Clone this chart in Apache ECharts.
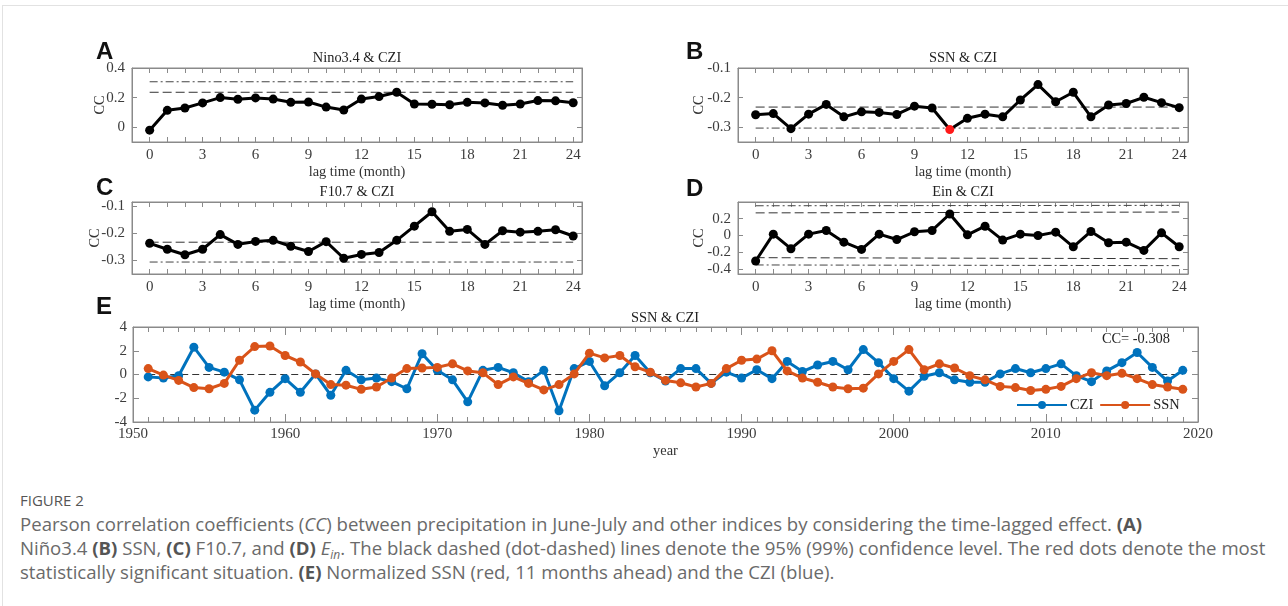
<!DOCTYPE html>
<html>
<head>
<meta charset="utf-8">
<script src="https://cdn.jsdelivr.net/npm/echarts@6/dist/echarts.min.js"></script>
<style>
  html, body { margin:0; padding:0; background:#fff; }
  #wrap { position:relative; width:1288px; height:606px; overflow:hidden; }
  #frame { position:absolute; left:2px; top:5px; width:1300px; height:620px; border-top:1px solid #e2e2e2; border-left:1px solid #e2e2e2; }
  #chart { position:absolute; left:0; top:0; width:1288px; height:470px; }
  #cap { position:absolute; left:20px; top:488px; font-family:'Open Sans','Noto Sans',sans-serif; color:#6a6a6a; font-size:18.6px; line-height:24px; white-space:nowrap; }
  #cap .fig { color:#555; font-size:15px; }
  #cap b { color:#555; }
  #cap sub { font-size:12px; vertical-align:-4px; line-height:0; }
</style>
</head>
<body>
<div id="wrap">
  <div id="frame"></div>
  <div id="chart"></div>
  <div id="cap">
    <div class="fig">FIGURE 2</div>
    <div>Pearson correlation coefficients (<i>CC</i>) between precipitation in June-July and other indices by considering the time-lagged effect. <b>(A)</b></div>
    <div>Niño3.4 <b>(B)</b> SSN, <b>(C)</b> F10.7, and <b>(D)</b> <i>E<sub>in</sub></i>. The black dashed (dot-dashed) lines denote the 95% (99%) confidence level. The red dots denote the most</div>
    <div>statistically significant situation. <b>(E)</b> Normalized SSN (red, 11 months ahead) and the CZI (blue).</div>
  </div>
</div>
<script>
// ---------- data ----------
const lags = [0,1,2,3,4,5,6,7,8,9,10,11,12,13,14,15,16,17,18,19,20,21,22,23,24];
const lagLabels = [0,3,6,9,12,15,18,21,24];

const ccNino = [-0.02,0.114,0.13,0.164,0.2,0.189,0.198,0.19,0.168,0.17,0.136,0.116,0.19,0.207,0.236,0.157,0.155,0.152,0.168,0.164,0.148,0.157,0.18,0.178,0.165];
const ccSSN  = [-0.258,-0.254,-0.305,-0.256,-0.223,-0.265,-0.248,-0.25,-0.257,-0.229,-0.235,-0.308,-0.27,-0.256,-0.265,-0.208,-0.156,-0.214,-0.182,-0.265,-0.225,-0.22,-0.199,-0.217,-0.234];
const ccF107 = [-0.237,-0.259,-0.279,-0.259,-0.205,-0.241,-0.23,-0.226,-0.248,-0.267,-0.231,-0.292,-0.278,-0.271,-0.226,-0.174,-0.121,-0.193,-0.186,-0.241,-0.191,-0.196,-0.193,-0.187,-0.21];
const ccEin  = [-0.305,0.016,-0.158,0.016,0.06,-0.08,-0.166,0.016,-0.048,0.044,0.06,0.257,0.008,0.111,-0.055,0.016,0,0.04,-0.135,0.048,-0.087,-0.08,-0.178,0.032,-0.135];

// confidence levels at lag 0 and lag 24 : [95% level], [99% level]
const confA = { c95:[[0.236,0.236]], c99:[[0.307,0.307]] };
const confB = { c95:[[-0.232,-0.232]], c99:[[-0.303,-0.303]] };
const confC = { c95:[[-0.233,-0.233]], c99:[[-0.306,-0.306]] };
const confD = { c95:[[0.27,0.28],[-0.265,-0.277]], c99:[[0.355,0.36],[-0.352,-0.36]] };
const redLagB = 11;

const years = [1951,1952,1953,1954,1955,1956,1957,1958,1959,1960,1961,1962,1963,1964,1965,1966,1967,1968,1969,1970,
1971,1972,1973,1974,1975,1976,1977,1978,1979,1980,1981,1982,1983,1984,1985,1986,1987,1988,1989,1990,
1991,1992,1993,1994,1995,1996,1997,1998,1999,2000,2001,2002,2003,2004,2005,2006,2007,2008,2009,2010,
2011,2012,2013,2014,2015,2016,2017,2018,2019];
const czi = [-0.2,-0.3,-0.1,2.3,0.6,0.2,-0.45,-3.0,-1.5,-0.35,-1.5,0.05,-1.75,0.35,-0.45,-0.3,-0.6,-1.2,1.75,0.35,
-0.45,-2.3,0.35,0.6,0.15,-0.6,0.35,-3.05,0.5,1.1,-0.95,0.15,1.6,0.15,-0.55,0.5,0.5,-0.75,0.2,-0.3,
0.4,-0.35,1.1,0.25,0.8,1.1,0.4,2.1,1.0,-0.35,-1.4,-0.15,0.15,-0.45,-0.65,-0.65,0.05,0.5,0.15,0.5,
0.9,-0.1,-0.6,0.3,1.0,1.85,0.6,-0.55,0.35];
const ssn = [0.5,-0.05,-0.5,-1.1,-1.2,-0.75,1.2,2.35,2.4,1.6,1.05,0.05,-0.85,-0.9,-1.25,-1.05,-0.3,0.5,0.55,0.6,
0.9,0.3,0.15,-0.85,-0.2,-0.75,-1.3,-0.85,0.05,1.8,1.4,1.6,0.65,0.2,-0.5,-0.7,-1.05,-0.75,0.5,1.2,
1.3,2.0,0.3,-0.3,-0.65,-1.05,-1.2,-1.15,0.05,1.1,2.1,0.4,0.9,0.55,-0.1,-0.45,-1.0,-1.1,-1.35,-1.25,
-1.0,-0.35,0.15,-0.1,0.1,-0.35,-0.85,-1.05,-1.25];
const eYLabels = [-4,-2,0,2,4];
const ccText = 'CC= -0.308';

// ---------- styling ----------
const SERIF = "'Liberation Serif','Times New Roman',serif";
const BOX = '#8a8a8a';
const LBL = '#3c3c3c';
const DASH = [9,4];
const DOTDASH = [8,3,2,3];
const TICKFS = 15, NAMEFS = 14.4;

const grids = [], xAxes = [], yAxes = [], series = [], graphics = [];

function panel(rect, yMin, yMax, yLab, vals, conf, title, letter, yNameGap, redIdx) {
  const gi = grids.length;
  grids.push({ left:rect[0], top:rect[1], width:rect[2], height:rect[3], show:true, borderColor:BOX, borderWidth:1, containLabel:false });
  const xb = xAxes.length;
  const common = { gridIndex:gi, type:'value', min:-1, max:24.5, splitLine:{show:false},
    axisLine:{show:true, onZero:false, lineStyle:{color:BOX}},
    axisTick:{show:true, inside:true, length:5, customValues:lags, lineStyle:{color:BOX}} };
  xAxes.push(Object.assign({}, common, { position:'bottom',
    axisLabel:{customValues:lagLabels, color:LBL, fontFamily:SERIF, fontSize:TICKFS, margin:6},
    name:'lag time (month)', nameLocation:'middle', nameGap:23, nameMoveOverlap:false,
    nameTextStyle:{fontFamily:SERIF, fontSize:NAMEFS, color:'#333'} }));
  xAxes.push(Object.assign({}, common, { position:'top', axisLabel:{show:false} }));
  const yb = yAxes.length;
  const yc = { gridIndex:gi, type:'value', min:yMin, max:yMax, splitLine:{show:false},
    axisLine:{show:true, onZero:false, lineStyle:{color:BOX}},
    axisTick:{show:true, inside:true, length:5, customValues:yLab, lineStyle:{color:BOX}} };
  yAxes.push(Object.assign({}, yc, { position:'left',
    axisLabel:{customValues:yLab, color:LBL, fontFamily:SERIF, fontSize:TICKFS, margin:7},
    name:'CC', nameLocation:'middle', nameGap:yNameGap, nameRotate:90, nameMoveOverlap:false,
    nameTextStyle:{fontFamily:SERIF, fontSize:NAMEFS, color:'#333'} }));
  yAxes.push(Object.assign({}, yc, { position:'right', axisLabel:{show:false} }));

  const lineCommon = { xAxisIndex:xb, yAxisIndex:yb, type:'line', symbol:'none', silent:true, animation:false };
  conf.c99.forEach(p => series.push(Object.assign({}, lineCommon, {
    data:[[lags[0], p[0]], [lags[lags.length-1], p[1]]], lineStyle:{color:'#444', width:1, type:DOTDASH} })));
  conf.c95.forEach(p => series.push(Object.assign({}, lineCommon, {
    data:[[lags[0], p[0]], [lags[lags.length-1], p[1]]], lineStyle:{color:'#333', width:1, type:DASH} })));

  series.push({ type:'line', xAxisIndex:xb, yAxisIndex:yb, animation:false, z:5,
    symbol:'circle', symbolSize:9, showAllSymbol:true,
    lineStyle:{color:'#000', width:3}, itemStyle:{color:'#000'},
    data: lags.map((l,i) => (i === redIdx)
      ? { value:[l, vals[i]], itemStyle:{color:'#ff1a1a'}, symbolSize:9 }
      : [l, vals[i]]) });

  graphics.push({ type:'text', x:rect[0] + rect[2]/2, y:rect[1] - 10, z:10,
    style:{ text:title, font:NAMEFS + 'px ' + SERIF, fill:'#222', textAlign:'center', textVerticalAlign:'middle' } });
  graphics.push({ type:'text', x:letter[1], y:letter[2], z:10,
    style:{ text:letter[0], font:'bold 24px "Liberation Sans", Arial, sans-serif', fill:'#111', textAlign:'left', textVerticalAlign:'top' } });
}

panel([132, 68, 450, 74], -0.1, 0.4, [0,0.2,0.4], ccNino, confA, 'Nino3.4 & CZI', ['A', 96, 40], 25, -1);
panel([738, 68, 450, 74], -0.35, -0.1, [-0.3,-0.2,-0.1], ccSSN, confB, 'SSN & CZI', ['B', 686, 40], 32, redLagB);
panel([132, 202, 450, 72], -0.35, -0.085, [-0.3,-0.2,-0.1], ccF107, confC, 'F10.7 & CZI', ['C', 96, 176], 30, -1);
panel([738, 202, 450, 72], -0.46, 0.4, [-0.4,-0.2,0,0.2], ccEin, confD, 'Ein & CZI', ['D', 686, 177], 32, -1);

// ---------- panel E ----------
const gE = grids.length;
grids.push({ left:133, top:327, width:1065, height:95, show:true, borderColor:BOX, borderWidth:1, containLabel:false });
const xE = xAxes.length;
const eXCommon = { gridIndex:gE, type:'value', min:1950, max:2020, interval:10, splitLine:{show:false},
  axisLine:{show:true, onZero:false, lineStyle:{color:BOX}},
  axisTick:{show:true, inside:true, length:8, lineStyle:{color:BOX}},
  minorTick:{show:true, splitNumber:10, length:5, lineStyle:{color:BOX}}, minorSplitLine:{show:false} };
xAxes.push(Object.assign({}, eXCommon, { position:'bottom',
  axisLabel:{color:LBL, fontFamily:SERIF, fontSize:TICKFS, margin:5, formatter: v => String(v)},
  name:'year', nameLocation:'middle', nameGap:22, nameMoveOverlap:false,
  nameTextStyle:{fontFamily:SERIF, fontSize:NAMEFS, color:'#333'} }));
xAxes.push(Object.assign({}, eXCommon, { position:'top', axisLabel:{show:false} }));
const yE = yAxes.length;
const eYCommon = { gridIndex:gE, type:'value', min:-4, max:4, splitLine:{show:false},
  axisLine:{show:true, onZero:false, lineStyle:{color:BOX}},
  axisTick:{show:true, inside:true, length:6, customValues:eYLabels, lineStyle:{color:BOX}} };
yAxes.push(Object.assign({}, eYCommon, { position:'left',
  axisLabel:{customValues:eYLabels, color:LBL, fontFamily:SERIF, fontSize:TICKFS, margin:6} }));
yAxes.push(Object.assign({}, eYCommon, { position:'right', axisLabel:{show:false} }));

series.push({ type:'line', xAxisIndex:xE, yAxisIndex:yE, symbol:'none', silent:true, animation:false,
  data:[[years[0],0],[years[years.length-1],0]], lineStyle:{color:'#333', width:1, type:[7,4]} });
series.push({ name:'CZI', type:'line', xAxisIndex:xE, yAxisIndex:yE, animation:false, z:4,
  symbol:'circle', symbolSize:9, showAllSymbol:true,
  lineStyle:{color:'#0072BD', width:3}, itemStyle:{color:'#0072BD'},
  data: years.map((y,i) => [y, czi[i]]) });
series.push({ name:'SSN', type:'line', xAxisIndex:xE, yAxisIndex:yE, animation:false, z:5,
  symbol:'circle', symbolSize:9, showAllSymbol:true,
  lineStyle:{color:'#D95319', width:3}, itemStyle:{color:'#D95319'},
  data: years.map((y,i) => [y, ssn[i]]) });

graphics.push({ type:'text', x:665, y:318, z:10,
  style:{ text:'SSN & CZI', font:NAMEFS + 'px ' + SERIF, fill:'#222', textAlign:'center', textVerticalAlign:'middle' } });
graphics.push({ type:'text', x:1170, y:339, z:10,
  style:{ text:ccText, font:'14.4px ' + SERIF, fill:'#222', textAlign:'right', textVerticalAlign:'middle' } });
graphics.push({ type:'text', x:96, y:295, z:10,
  style:{ text:'E', font:'bold 24px "Liberation Sans", Arial, sans-serif', fill:'#111', textAlign:'left', textVerticalAlign:'top' } });

const chart = echarts.init(document.getElementById('chart'), null, { renderer:'canvas' });
chart.setOption({
  animation:false,
  backgroundColor:'transparent',
  grid:grids, xAxis:xAxes, yAxis:yAxes, series:series,
  legend:{ data:['CZI','SSN'], left:1016, top:398, itemWidth:50, itemHeight:10, itemGap:6,
    textStyle:{fontFamily:SERIF, fontSize:14.4, color:'#222', padding:[0,0,0,-2]}, padding:0 },
  graphic:graphics
});
</script>
</body>
</html>
